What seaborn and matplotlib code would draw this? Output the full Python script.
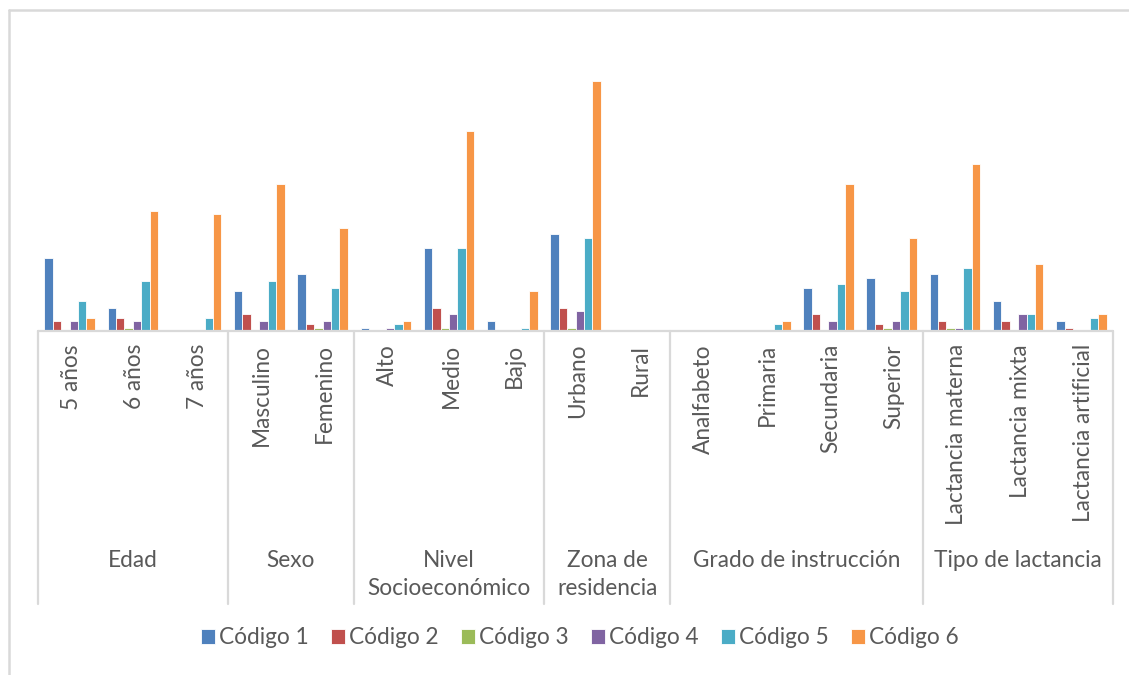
import matplotlib
matplotlib.use("Agg")
import matplotlib.pyplot as plt
import matplotlib.transforms as mtransforms
from matplotlib.lines import Line2D
import seaborn as sns
import pandas as pd

# Categorías (eje X) agrupadas por variable
grupos = ["Edad", "Sexo", "Nivel\nSocioeconómico", "Zona de\nresidencia",
          "Grado de instrucción", "Tipo de lactancia"]
categorias_por_grupo = [
    ["5 años", "6 años", "7 años"],
    ["Masculino", "Femenino"],
    ["Alto", "Medio", "Bajo"],
    ["Urbano", "Rural"],
    ["Analfabeto", "Primaria", "Secundaria", "Superior"],
    ["Lactancia materna", "Lactancia mixta", "Lactancia artificial"],
]
codigos = ["Código 1", "Código 2", "Código 3", "Código 4", "Código 5", "Código 6"]

codigo_1 = [22, 7, 0, 12, 17, 1, 25, 3, 29, 0, 0, 0, 13, 16, 17, 9, 3]
codigo_2 = [3, 4, 0, 5, 2, 0, 7, 0, 7, 0, 0, 0, 5, 2, 3, 3, 1]
codigo_3 = [0, 1, 0, 0, 1, 0, 1, 0, 1, 0, 0, 0, 0, 1, 1, 0, 0]
codigo_4 = [3, 3, 0, 3, 3, 1, 5, 0, 6, 0, 0, 0, 3, 3, 1, 5, 0]
codigo_5 = [9, 15, 4, 15, 13, 2, 25, 1, 28, 0, 0, 2, 14, 12, 19, 5, 4]
codigo_6 = [4, 36, 35, 44, 31, 3, 60, 12, 75, 0, 0, 3, 44, 28, 50, 20, 5]

colores = ["#4F81BD", "#C0504D", "#9BBB59", "#8064A2", "#4BACC6", "#F79646"]

categorias = [c for g in categorias_por_grupo for c in g]
series = [codigo_1, codigo_2, codigo_3, codigo_4, codigo_5, codigo_6]
df = pd.DataFrame([
    {"categoria": cat, "codigo": cod, "valor": v}
    for cod, vals in zip(codigos, series)
    for cat, v in zip(categorias, vals)
])

sns.set_theme(style="white")
plt.rcParams["font.family"] = ["Lato", "DejaVu Sans"]
texto = "#595959"
linea = "#D9D9D9"
fs = 16.3

W, H = 1129, 675
fig = plt.figure(figsize=(W / 100, H / 100), dpi=100)
fig.patch.set_facecolor("white")

x0, x1, base_y, top_y = 38, 1113, 331, 331 - 80 * 3.333
ax = fig.add_axes([x0 / W, (H - base_y) / H, (x1 - x0) / W, (base_y - top_y) / H])

sns.barplot(data=df, x="categoria", y="valor", hue="codigo",
            order=categorias, hue_order=codigos, palette=colores,
            saturation=1, width=0.8, edgecolor="white", linewidth=0.6, ax=ax)

handles, labels = ax.get_legend_handles_labels()
if ax.get_legend() is not None:
    ax.get_legend().remove()

ax.set_xlim(-0.5, len(categorias) - 0.5)
ax.set_ylim(0, 80)
ax.set_xlabel("")
ax.set_ylabel("")
ax.set_xticks([])
ax.set_yticks([])
for s in ["top", "right", "left", "bottom"]:
    ax.spines[s].set_visible(False)
ax.axhline(0, color=linea, lw=1.6, zorder=5, clip_on=False)

px = (base_y - top_y)  # pixels per axes unit in y
def ay(ypix):
    return (base_y - ypix) / px

trans = mtransforms.blended_transform_factory(ax.transData, ax.transAxes)

# Líneas separadoras de grupos
bordes = [-0.5]
for g in categorias_por_grupo:
    bordes.append(bordes[-1] + len(g))
for b in bordes:
    ax.add_line(Line2D([b, b], [0, ay(604)], transform=trans, color=linea,
                       lw=1.6, clip_on=False))

# Etiquetas de categorías (verticales)
for i, cat in enumerate(categorias):
    ax.text(i + 0.03, ay(344), cat, transform=trans, rotation=90,
            ha="center", va="top", fontsize=fs, color=texto)

# Etiquetas de grupo
for g, (a, b) in zip(grupos, zip(bordes[:-1], bordes[1:])):
    ax.text((a + b) / 2, ay(550), g, transform=trans, ha="center", va="top",
            fontsize=fs, color=texto, linespacing=1.42, multialignment="center")

# Leyenda
fig.legend(handles, labels, loc="center", bbox_to_anchor=(580 / W, (H - 638) / H),
           ncol=6, frameon=False, fontsize=fs, handlelength=0.6,
           handleheight=0.6, handletextpad=0.2, columnspacing=0.98,
           labelcolor=texto)

# Borde exterior del gráfico
fig.add_artist(Line2D([9 / W, 9 / W], [0, (H - 10) / H], transform=fig.transFigure,
                      color=linea, lw=1.8))
fig.add_artist(Line2D([9 / W, 1], [(H - 10) / H, (H - 10) / H], transform=fig.transFigure,
                      color=linea, lw=1.8))

fig.savefig("out.png", dpi=100, facecolor="white")
